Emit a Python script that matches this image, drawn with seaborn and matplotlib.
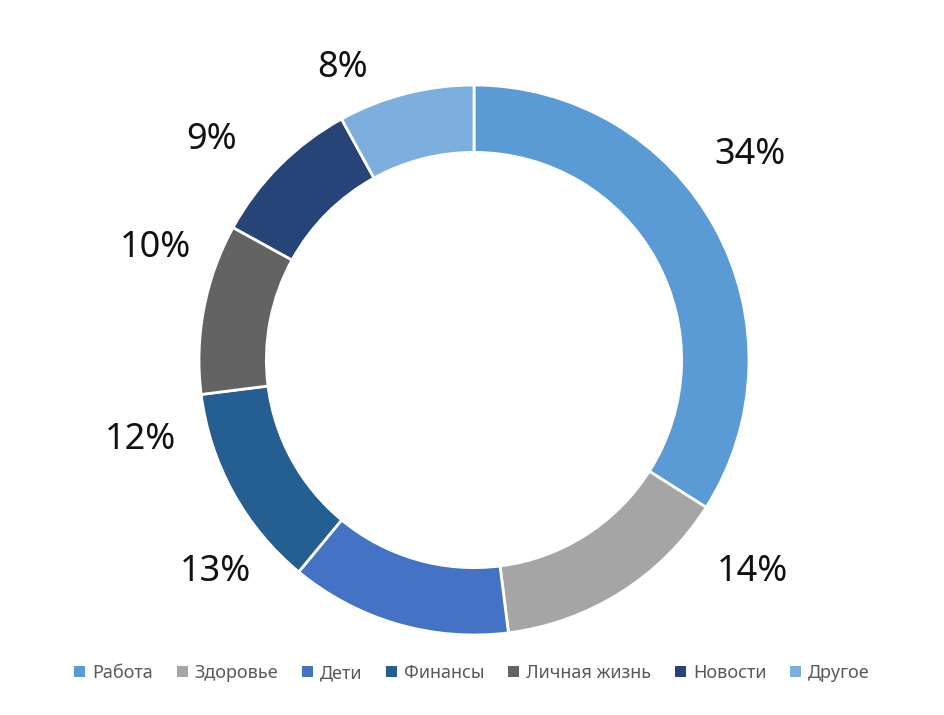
import matplotlib
matplotlib.use("Agg")
import matplotlib.pyplot as plt
import seaborn as sns
from matplotlib.patches import Patch

sns.set_theme(style="white")
plt.rcParams['font.family'] = ['Noto Sans', 'DejaVu Sans']

categories = ["Работа", "Здоровье", "Дети", "Финансы", "Личная жизнь", "Новости", "Другое"]
values = [34, 14, 13, 12, 10, 9, 8]
colors = ["#5B9BD5", "#A5A5A5", "#4472C4", "#255E91", "#636363", "#264478", "#7CAFDD"]

# label anchor positions (pixels in the reference) for placement
label_px = [(750, 155), (752, 572), (215, 572), (140, 440), (155, 248), (212, 140), (343, 68)]
cx, cy, R = 474, 360, 275

fig = plt.figure(figsize=(9.44, 7.15), dpi=100)
ax = fig.add_axes([(cx-R)/944, (715-cy-R)/715, 2*R/944, 2*R/715])
wedges, texts = ax.pie(values, colors=colors, startangle=90, counterclock=False,
       radius=1, wedgeprops=dict(width=0.245, edgecolor="white", linewidth=2))
for v, (px, py) in zip(values, label_px):
    ax.text((px-cx)/R, (cy-py)/R, f"{v}%", ha="center", va="center",
            fontsize=26, color="#111111")
ax.set_xlim(-1, 1); ax.set_ylim(-1, 1)
ax.set_aspect("equal")
ax.axis("off")

handles = [Patch(facecolor=c, edgecolor="none", label=l) for c, l in zip(colors, categories)]
leg = fig.legend(handles=handles, loc="center", bbox_to_anchor=(0.5, 1-673/715), ncol=7,
                 frameon=False, fontsize=13, handlelength=0.6, handleheight=0.6,
                 handletextpad=0.4, columnspacing=1.3)
for t in leg.get_texts():
    t.set_color("#595959")
fig.savefig("out.png", dpi=100, facecolor="white")
